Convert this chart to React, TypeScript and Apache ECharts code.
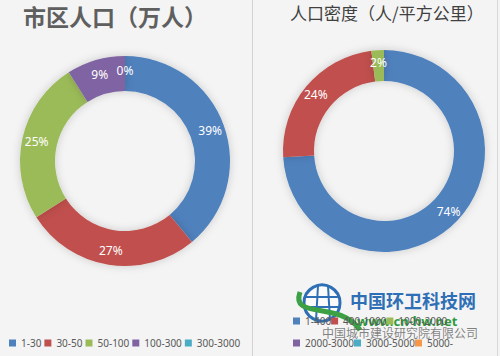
import React, { useEffect, useRef } from "react";
import * as echarts from "echarts";

const leftTitle = "市区人口（万人）";
const rightTitle = "人口密度（人/平方公里）";
const leftCategories = ["1-30", "30-50", "50-100", "100-300", "300-3000"];
const leftValues = [39, 27, 25, 9, 0];
const rightCategories = ["1-400", "400-1000", "1000-2000", "2000-3000", "3000-5000", "5000-"];
const rightValues = [74, 24, 2, 0, 0, 0];
const colors = ["#4f81bd", "#c0504d", "#9bbb59", "#8064a2", "#4bacc6", "#f79646"];

export default function App() {
  const ref = useRef<HTMLDivElement>(null);
  useEffect(() => {
    if (!ref.current) return;
    const chart = echarts.init(ref.current, undefined, { renderer: "svg" });
    const latin = "'Noto Sans', 'Noto Sans CJK SC', sans-serif";
    const cjk = "'Noto Sans CJK SC', sans-serif";
    const labelStyle = {
      show: true,
      position: "inside",
      color: "#ffffff",
      fontSize: 12,
      fontFamily: latin,
      formatter: "{c}%",
    };
    const legendText = { color: "#595959", fontSize: 10, fontFamily: latin };
    chart.setOption({
      animation: false,
      backgroundColor: "#f4f4f4",
      color: colors,
      title: [
        {
          text: leftTitle,
          left: 23,
          top: 4,
          padding: 0,
          textStyle: { fontSize: 23, fontWeight: "bold", color: "#5f5f5f", fontFamily: cjk },
        },
        {
          text: rightTitle,
          left: 290,
          top: 3,
          padding: 0,
          textStyle: { fontSize: 17, fontWeight: "normal", color: "#404040", fontFamily: cjk, lineHeight: 18 },
        },
      ],
      legend: [
        {
          data: leftCategories,
          left: 4,
          top: 333,
          itemWidth: 7,
          itemHeight: 7,
          itemGap: 3,
          icon: "rect",
          textStyle: legendText,
        },
        {
          data: rightCategories.slice(0, 3),
          left: 288,
          top: 311,
          itemWidth: 7,
          itemHeight: 7,
          itemGap: 0,
          icon: "rect",
          textStyle: { ...legendText, width: 55 },
        },
        {
          data: rightCategories.slice(3),
          left: 288,
          top: 333,
          itemWidth: 7,
          itemHeight: 7,
          itemGap: 0,
          icon: "rect",
          textStyle: { ...legendText, width: 55 },
        },
      ],
      graphic: [
        { type: "rect", shape: { x: 252, y: 0, width: 1, height: 356 }, style: { fill: "#d2d2d2" }, silent: true },
        { type: "rect", shape: { x: 497, y: 0, width: 1, height: 356 }, style: { fill: "#d8d8d8" }, silent: true },
        {
          type: "group",
          z: 100,
          children: [
            { type: "circle", shape: { cx: 322, cy: 303, r: 18 }, style: { fill: "rgba(255,255,255,0.6)", stroke: "#2f6fb5", lineWidth: 3 } },
            { type: "line", shape: { x1: 306, y1: 297, x2: 338, y2: 297 }, style: { stroke: "#2f6fb5", lineWidth: 2 } },
            { type: "line", shape: { x1: 305, y1: 307, x2: 339, y2: 307 }, style: { stroke: "#2f6fb5", lineWidth: 2 } },
            { type: "line", shape: { x1: 318, y1: 286, x2: 316, y2: 320 }, style: { stroke: "#2f6fb5", lineWidth: 2 } },
            { type: "line", shape: { x1: 328, y1: 286, x2: 330, y2: 320 }, style: { stroke: "#2f6fb5", lineWidth: 2 } },
            {
              type: "bezierCurve",
              shape: { x1: 300, y1: 292, x2: 360, y2: 330, cpx1: 290, cpy1: 320, cpx2: 340, cpy2: 300 },
              style: { stroke: "#3ca045", lineWidth: 5, fill: "none" },
            },
            {
              type: "text",
              x: 350,
              y: 291,
              style: { text: "中国环卫科技网", fontSize: 18, fontWeight: "bold", fill: "#2f6fb5", fontFamily: cjk },
            },
            {
              type: "text",
              x: 357,
              y: 314,
              style: { text: "www.cn-hw.net", fontSize: 13, fontWeight: "bold", fill: "#2e9a3c", fontFamily: latin },
            },
            {
              type: "text",
              x: 322,
              y: 326,
              style: { text: "中国城市建设研究院有限公司", fontSize: 12, fill: "rgba(90,90,90,0.75)", fontFamily: cjk },
            },
          ],
        },
      ],
      series: [
        {
          type: "pie",
          center: [125, 161],
          radius: [70, 105],
          startAngle: 90,
          clockwise: true,
          avoidLabelOverlap: false,
          label: labelStyle,
          labelLine: { show: false },
          itemStyle: { shadowBlur: 8, shadowColor: "rgba(0,0,0,0.18)" },
          data: leftCategories.map((name, i) => ({
            name,
            value: leftValues[i],
            itemStyle: { color: colors[i] },
          })),
        },
        {
          type: "pie",
          center: [384, 151],
          radius: [70, 101],
          startAngle: 90,
          clockwise: true,
          avoidLabelOverlap: false,
          label: labelStyle,
          labelLine: { show: false },
          itemStyle: { shadowBlur: 8, shadowColor: "rgba(0,0,0,0.18)" },
          data: rightCategories.map((name, i) => ({
            name,
            value: rightValues[i],
            itemStyle: { color: colors[i] },
            label: { show: rightValues[i] > 0 },
          })),
        },
      ],
    });
    return () => chart.dispose();
  }, []);
  return (
    <div
      ref={ref}
      style={{ position: "fixed", left: 0, top: 0, width: 500, height: 356 }}
    />
  );
}
